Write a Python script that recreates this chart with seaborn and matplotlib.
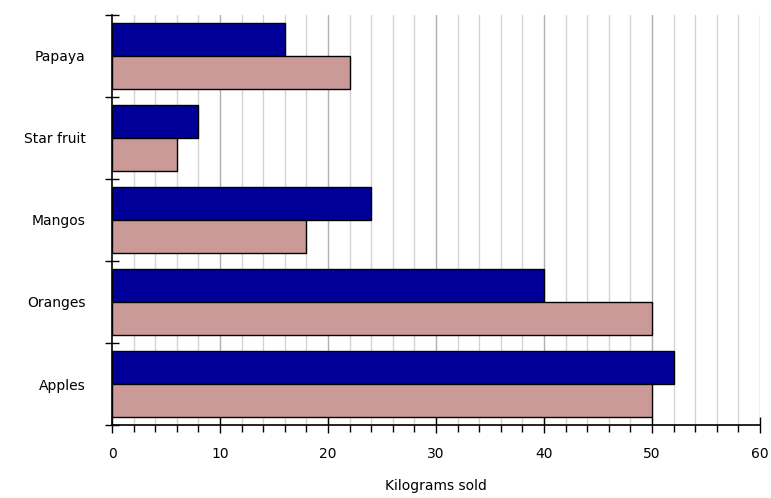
import matplotlib
matplotlib.use("Agg")
import matplotlib.pyplot as plt
import seaborn as sns
import pandas as pd
import numpy as np

categories = ["Papaya", "Star fruit", "Mangos", "Oranges", "Apples"]
series_a = [16, 8, 24, 40, 52]
series_b = [22, 6, 18, 50, 50]
series_names = ["Series 1", "Series 2"]
x_ticks = [0, 10, 20, 30, 40, 50, 60]

df = pd.DataFrame({
    "fruit": categories * 2,
    "kg": series_a + series_b,
    "series": [series_names[0]] * len(categories) + [series_names[1]] * len(categories),
})

sns.set_style("white")
plt.rcParams["font.family"] = ["DejaVu Sans"]
plt.rcParams["text.color"] = "black"
plt.rcParams["axes.labelcolor"] = "black"
plt.rcParams["xtick.color"] = "black"
plt.rcParams["ytick.color"] = "black"

fig = plt.figure(figsize=(7.71, 4.98), dpi=100)
ax = fig.add_axes([112 / 771, 1 - 425 / 498, (760 - 112) / 771, (425 - 15) / 498])

sns.barplot(data=df, x="kg", y="fruit", hue="series", order=categories,
            hue_order=series_names, palette=["#000099", "#CC9999"],
            saturation=1, orient="h", width=0.8, edgecolor="black", linewidth=1.0,
            legend=False, ax=ax, zorder=3)

ax.set_xlim(0, 60)
ax.set_ylim(len(categories) - 0.5, -0.5)

# grid
for xv in np.arange(2, 61, 2):
    col = "#b0b0b0" if xv % 10 == 0 else "#d4d4d4"
    ax.axvline(xv, color=col, lw=1.0, zorder=0)

fs = 10

ax.set_xticks(x_ticks)
ax.set_xticks(np.arange(0, 61, 2), minor=True)
ax.tick_params(axis="x", which="major", bottom=True, direction="inout", length=12, width=1,
               color="black", labelcolor="black", labelsize=fs, pad=10)
ax.tick_params(axis="x", which="minor", bottom=True, direction="out", length=5, width=1, color="black")

ax.set_yticks(np.arange(-0.5, len(categories), 1.0))
ax.set_yticklabels([])
ax.set_yticks(np.arange(len(categories)), minor=True)
ax.set_yticklabels(categories, minor=True)
ax.tick_params(axis="y", which="major", left=True, direction="inout", length=10, width=1, color="black")
ax.tick_params(axis="y", which="minor", left=True, length=0, labelsize=fs, labelcolor="black", pad=19)

for s in ["top", "right"]:
    ax.spines[s].set_visible(False)
for s in ["left", "bottom"]:
    ax.spines[s].set_color("black")
    ax.spines[s].set_linewidth(1.2)

ax.set_ylabel("")
ax.set_xlabel("Kilograms sold", fontsize=fs, color="black", labelpad=13)

fig.savefig("out.png", dpi=100)
